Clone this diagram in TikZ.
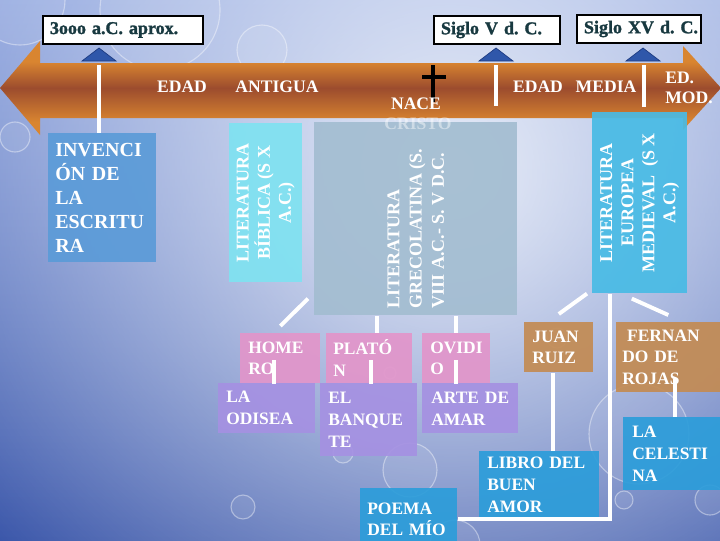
\documentclass[tikz,border=0pt]{standalone}
\usepackage{fontspec}
\setmainfont{Liberation Serif}
\newfontfamily\labfont{Liberation Serif}[BoldFeatures={FakeBold=1.5}]
\usepackage{graphicx}
\usepackage{tikz}
\usetikzlibrary{calc, positioning, fadings}
\definecolor{bgTop}{HTML}{7F98DA}
\definecolor{bgLight}{HTML}{E8EDF8}
\definecolor{bgDark}{HTML}{2A48A2}
\definecolor{arrLight}{HTML}{EC9E3A}
\definecolor{arrOrange}{HTML}{D98530}
\definecolor{arrBrown}{HTML}{9C4C2E}
\definecolor{labTeal}{HTML}{183940}
\definecolor{triBlue}{HTML}{2F57AA}
\definecolor{triEdge}{HTML}{1E3C82}
\definecolor{boxBlue}{HTML}{5B9BD8}
\definecolor{boxCyan}{HTML}{7FE2F1}
\definecolor{boxGrey}{HTML}{A3BDD1}
\definecolor{boxSky}{HTML}{48BBE5}
\definecolor{boxPink}{HTML}{E295CA}
\definecolor{boxLilac}{HTML}{A591E2}
\definecolor{boxTan}{HTML}{C38B53}
\definecolor{boxDeep}{HTML}{2C9DDA}
\newcommand{\bxf}{\fontsize{12.4}{15.6}\selectfont\bfseries}
\newcommand{\bigbxf}{\fontsize{14.2}{17}\selectfont\bfseries}
\newcommand{\rtf}{\fontsize{12.8}{15}\selectfont\bfseries}
\newcommand{\tlf}{\labfont\fontsize{12.8}{15}\selectfont\bfseries}
\newcommand{\atf}{\fontsize{12.5}{14.2}\selectfont\bfseries}
\tikzfading[name=spotfade, inner color=transparent!0, outer color=transparent!100]
\pgfdeclareverticalshading{arrshade}{100bp}{color(0bp)=(arrLight); color(18bp)=(arrOrange);
	color(32bp)=(arrOrange); color(50bp)=(arrBrown); color(64bp)=(arrOrange);
	color(77bp)=(arrOrange); color(100bp)=(arrLight)}
\frenchspacing

\begin{document}
\begin{tikzpicture}[x=0.025cm, y=-0.025cm,
	cbox/.style={inner sep=0pt, text=white, fill opacity=0.92, text opacity=1, anchor=north west},
	lbox/.style={cbox, align=left, font=\bxf},
	tlbox/.style={draw=black, line width=1.4pt, fill=white, text=labTeal, font=\tlf,
		inner ysep=0pt, inner xsep=0.175cm, minimum height=0.7cm, align=left, anchor=north west},
	wline/.style={white, line width=2.8pt},
	tri/.style={fill=triBlue, draw=triEdge, line width=0.5pt},
	bubble/.style={draw=white, draw opacity=0.4, line width=0.8pt, fill=white, fill opacity=0.08},
	atext/.style={text=white, font=\atf, inner sep=0pt}]
		\useasboundingbox (0,0) rectangle (720,540);
		\clip (0,0) rectangle (720,540);
		%-------------------------------------------------------------------------------
		% background
		%-------------------------------------------------------------------------------
		\shade[top color=bgTop, bottom color=bgDark] (0,0) rectangle (720,540);
		\fill[bgLight, path fading=spotfade] (450,170) circle[radius=16cm];
		\foreach \bx/\by/\br in {20/0/45, 160/10/60, 262/50/25, 15/137/15, 410/470/27,
			343/453/10, 243/507/12, 390/373/6, 557/338/10, 639/434/50, 624/500/9,
			710/500/15, 455/545/25}
			\filldraw[bubble] (\bx,\by) circle[radius=\br*0.025cm];
		
		% timeline arrow
		\shade[shading=arrshade]
			(0,88) -- (40,41) -- (40,63) -- (683,63) -- (683,46) -- (721,88)
			-- (683,130) -- (683,118) -- (40,118) -- (40,135) -- cycle;
		
		% marks on the arrow
		\coordinate (mk1) at (99,65);
		\coordinate (mk2) at (496,65);
		\coordinate (mk3) at (644,65);
		\draw[wline] (mk2) -- ++(0,41);
		\draw[wline] (mk3) -- ++(0,42);
		\coordinate (cruz) at (433,77);
		\draw[black, line width=2.8pt] ($(cruz)+(0,-12)$) -- ($(cruz)+(0,25)$);
		\draw[black, line width=2.8pt] ($(cruz)+(-11,0)$) -- ($(cruz)+(13,0)$);
		
		% labels on the arrow
		\node[atext] (edad1) at (182,87) {EDAD};
		\node[atext] (antig) at (277,87) {ANTIGUA};
		\node[atext] (edad2) at (538,87) {EDAD};
		\node[atext] (media) at (606,87) {MEDIA};
		\node[atext, align=left, anchor=west] (edmod) at (665,88) {ED.\\MOD.};
		\node[atext] (nace) at (416,104) {NACE};
		
		% dates
		\node[tlbox, minimum width=4cm, text width=3.65cm] (lab1) at (42,15) {3ooo~a.C.~aprox.};
		\node[tlbox, minimum width=3.15cm, text width=2.8cm] (lab2) at (433,15) {Siglo~V~d.~C.};
		\node[tlbox, minimum width=3.1cm, text width=2.75cm] (lab3) at (576,14) {Siglo~XV~d.~C.};
		\foreach \mx in {99,496,643}
			\filldraw[tri] (\mx-17,61) -- (\mx,48) -- (\mx+17,61) -- cycle;
		
		%-------------------------------------------------------------------------------
		% periods
		%-------------------------------------------------------------------------------
		\node[lbox, font=\bigbxf, fill=boxBlue, minimum width=2.7cm, minimum height=3.225cm,
			inner xsep=0.175cm, text width=2.35cm] (inv) at (48,133)
			{INVENCI\\ÓN~DE\\LA\\ESCRITU\\RA};
		\node[cbox, fill=boxCyan, minimum width=1.825cm, minimum height=3.975cm] (bib) at (229,123)
			{\rotatebox{90}{\parbox{3.6cm}{\centering\rtf LITERATURA\\BÍBLICA (S~X\\A.C.)}}};
		\node[cbox, fill=boxGrey, minimum width=5.075cm, minimum height=4.825cm] (grec) at (314,122)
			{\rotatebox{90}{\parbox{4.475cm}{\raggedright\fontsize{12.8}{15.8}\selectfont\bfseries
				LITERATURA\\GRECOLATINA (S.\\VIII A.C.-~S.~V~D.C.}}};
		\node[cbox, fill=boxSky, minimum width=2.375cm, minimum height=4.525cm] (europ) at (592,112)
			{\rotatebox{90}{\parbox{4.2cm}{\centering\rtf LITERATURA\\EUROPEA\\MEDIEVAL~~(S~X\\A.C.)}}};
		\node[atext, text opacity=0.45] (cristo) at (418,124) {CRISTO};
		
		% authors
		\node[lbox, fill=boxPink, minimum width=2cm, minimum height=1.25cm,
			inner xsep=0.2cm, text width=1.6cm] (homero) at (240,333) {HOME\\RO};
		\node[lbox, fill=boxPink, minimum width=2.15cm, minimum height=1.25cm,
			inner xsep=0.175cm, text width=1.8cm] (platon) at (326,333) {PLATÓ\\N};
		\node[lbox, fill=boxPink, minimum width=1.7cm, minimum height=1.25cm,
			inner xsep=0.2cm, text width=1.3cm] (ovidio) at (422,333) {OVIDI\\O};
		\node[lbox, fill=boxTan, minimum width=1.725cm, minimum height=1.25cm,
			inner xsep=0.2cm, text width=1.325cm] (juan) at (524,322) {JUAN\\RUIZ};
		\node[lbox, fill=boxTan, minimum width=2.75cm, minimum height=1.75cm,
			inner xsep=0.15cm, text width=2.45cm] (fern) at (616,322)
			{\hspace*{0.12cm}FERNAN\\DO~DE\\ROJAS};
		
		% works
		\node[lbox, fill=boxLilac, minimum width=2.425cm, minimum height=1.25cm,
			inner xsep=0.2cm, text width=2.025cm] (odisea) at (218,383) {LA\\ODISEA};
		\node[lbox, fill=boxLilac, minimum width=2.425cm, minimum height=1.825cm,
			inner xsep=0.2cm, text width=2.025cm] (banq) at (320,383) {EL\\BANQUE\\TE};
		\node[lbox, fill=boxLilac, minimum width=2.4cm, minimum height=1.25cm,
			inner xsep=0.225cm, text width=1.95cm] (arte) at (422,383) {ARTE~DE\\AMAR};
		\node[lbox, fill=boxDeep, minimum width=2.425cm, minimum height=1.55cm,
			inner xsep=0.175cm, text width=2.075cm] (poema) at (360,488) {POEMA\\DEL~MÍO};
		\node[lbox, fill=boxDeep, minimum width=3cm, minimum height=1.675cm,
			inner xsep=0.2cm, text width=2.6cm] (libro) at (479,451) {LIBRO~DEL\\BUEN\\AMOR};
		\node[lbox, fill=boxDeep, minimum width=2.6cm, minimum height=1.825cm,
			inner xsep=0.225cm, text width=2.15cm] (celes) at (623,417) {LA\\CELESTI\\NA};
		
		%-------------------------------------------------------------------------------
		% connectors
		%-------------------------------------------------------------------------------
		\draw[wline] (mk1) -- (mk1 |- inv.north);
		% grecolatina
		\coordinate (plx) at (377,0);
		\draw[wline] ($(grec.south west)+(-6,-17)$) -- ($(homero.north)+(0,-7)$);
		\draw[wline] (grec.south -| plx) -- (platon.north -| plx);
		\draw[wline] (grec.south -| ovidio.north) -- (ovidio.north);
		\draw[wline] ($(homero.center)+(-6,2)$) -- ($(homero.south)+(-6,0)$);
		\draw[wline] ($(platon.center)+(2,2)$) -- ($(platon.south)+(2,0)$);
		\draw[wline] ($(ovidio.center)+(0,2)$) -- (ovidio.south);
		% medieval
		\coordinate (vx) at (610,0);
		\draw[wline] ($(europ.south west)+(-5,0)$) -- ($(juan.north)+(0,-8)$);
		\draw[wline] ($(europ.south)+(-8,5)$) -- ($(fern.north)+(-3,-7)$);
		\draw[wline] (europ.south -| vx) |- (poema.east);
		\coordinate (jx) at ($(juan.south)+(-5.5,0)$);
		\draw[wline] (jx) -- (jx |- libro.north);
		\coordinate (fx) at ($(fern.south)+(4,-14)$);
		\draw[wline] (fx) -- (fx |- celes.north);
\end{tikzpicture}
\end{document}
